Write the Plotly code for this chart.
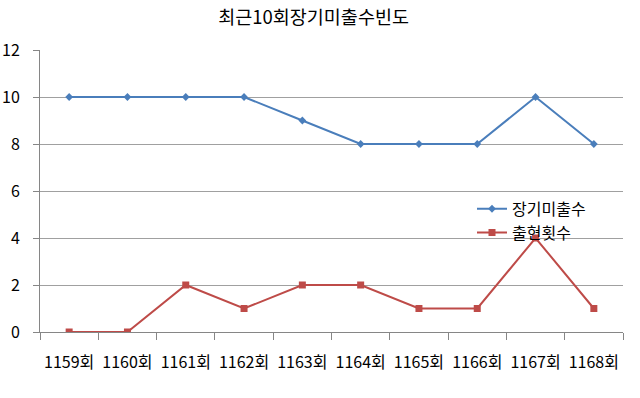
import plotly.graph_objects as go

categories = ["1159회", "1160회", "1161회", "1162회", "1163회", "1164회", "1165회", "1166회", "1167회", "1168회"]
long_missing = [10, 10, 10, 10, 9, 8, 8, 8, 10, 8]
appear_count = [0, 0, 2, 1, 2, 2, 1, 1, 4, 1]
y_ticks = [0, 2, 4, 6, 8, 10, 12]

FONT = "Noto Sans CJK KR, Malgun Gothic, sans-serif"

fig = go.Figure()
fig.add_trace(go.Scatter(
    x=categories, y=long_missing, name="장기미출수", mode="lines+markers",
    line=dict(color="#4A7EBB", width=2),
    marker=dict(symbol="diamond", size=6, color="#4A7EBB"),
))
fig.add_trace(go.Scatter(
    x=categories, y=appear_count, name="출현횟수", mode="lines+markers",
    line=dict(color="#BE4B48", width=2),
    marker=dict(symbol="square", size=7, color="#BE4B48"),
))

fig.update_layout(
    width=640, height=398,
    margin=dict(l=40, r=17, t=50, b=66, autoexpand=False),
    paper_bgcolor="white", plot_bgcolor="white",
    font=dict(family=FONT, size=16, color="#000000"),
    title=dict(text="최근10회장기미출수빈도", x=0.49, xanchor="center", y=0.957, yanchor="middle",
               font=dict(family=FONT, size=18.5, color="#000000")),
    showlegend=True,
    legend=dict(x=0.741, y=0.497, xanchor="left", yanchor="top",
                bgcolor="rgba(0,0,0,0)", font=dict(family=FONT, size=16, color="#000000"),
                tracegroupgap=0, itemwidth=30),
    xaxis=dict(type="category", tickson="boundaries", ticks="outside", ticklen=7,
               tickcolor="#868686", showline=True, linecolor="#868686", linewidth=1,
               showgrid=False, tickfont=dict(family=FONT, size=16, color="#000000"),
               tickangle=0, automargin=False,
               ticklabelstandoff=16, range=[-0.5, 9.5]),
    yaxis=dict(range=[0, 12], tickvals=y_ticks, ticks="outside", ticklen=6,
               tickcolor="#868686", showline=True, linecolor="#868686", linewidth=1,
               showgrid=True, gridcolor="#A0A0A0", gridwidth=1, zeroline=False,
               ticklabelstandoff=10, automargin=False,
               tickfont=dict(family=FONT, size=16, color="#000000")),
)

fig.write_html(
    "out.html",
    config={"displayModeBar": False},
    post_script="document.body.style.margin='0';document.body.style.padding='0';",
)
